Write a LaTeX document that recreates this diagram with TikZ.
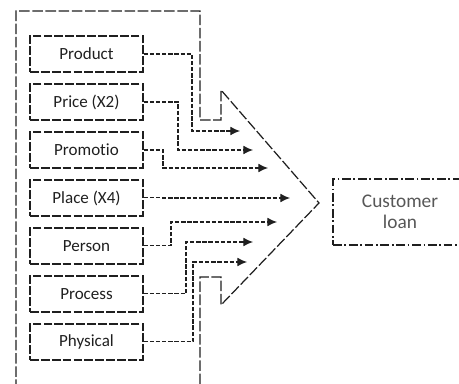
\documentclass[tikz,border=0pt]{standalone}
\usepackage{fontspec}
\setmainfont{Carlito}[Ligatures=NoCommon]
\usetikzlibrary{arrows.meta}
\definecolor{ink}{gray}{0.12}
\tikzset{
  mix/.style={draw=ink,line width=0.7pt,dash pattern=on 5pt off 1.2pt,minimum width=2.26cm,minimum height=0.72cm,text=ink,font=\fontsize{9.7}{11}\selectfont},
  feed/.style={draw=ink,line width=0.6pt,dash pattern=on 2.5pt off 1pt,-{Latex[length=5.5pt,width=5pt]}},
  goal/.style={draw=ink,line width=0.7pt,dash pattern=on 5pt off 1.5pt on 1pt off 1.5pt,minimum width=2.68cm,minimum height=1.32cm,align=center,text=ink!75,font=\fontsize{11}{12}\selectfont}
}
\begin{document}
\begin{tikzpicture}[x=0.02cm,y=-0.02cm,node distance=0.96cm]
\useasboundingbox (0,0) rectangle (459,384);
\draw[ink,line width=0.7pt,dash pattern=on 6pt off 1.5pt](16,390)--(16,11)--(200,11)--(200,120)--(221,120)--(221,90)--(319,203)--(221,305)--(221,277)--(200,277)--(200,390);
\node[mix](Product) at (86.5,54){Product};
\node[mix,below of = Product](Price){Price (X2)};
\node[mix,below of = Price](Promotio){Promotio};
\node[mix,below of = Promotio](Place){Place (X4)};
\node[mix,below of = Place](Person){Person};
\node[mix,below of = Person](Process){Process};
\node[mix,below of = Process](Physical){Physical};
\node[goal](Loan) at (400,212){Customer\\loan};
\foreach \n/\bx/\ty/\tx in {Product/192/131/240,Price/178/150/253,Promotio/163/168/268,Place/163/198/290,Person/171/222/277,Process/186/242/253,Physical/193/262/247}{
  \coordinate(in\n) at (\tx,\ty);
  \draw[feed](\n.east)-|(\bx,\ty)--(in\n);
}
\end{tikzpicture}
\end{document}
